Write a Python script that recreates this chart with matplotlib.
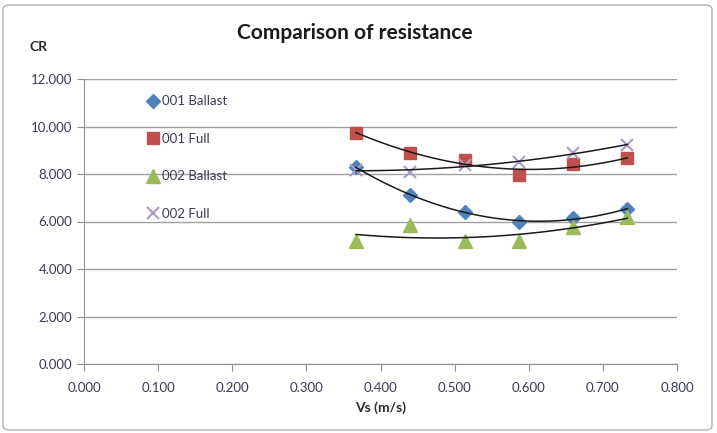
import numpy as np
import matplotlib
matplotlib.use("Agg")
import matplotlib.pyplot as plt
from matplotlib.ticker import FormatStrFormatter
from matplotlib.patches import FancyBboxPatch

vs = [0.367, 0.440, 0.514, 0.587, 0.660, 0.733]
ballast_001 = [8.28, 7.12, 6.41, 5.99, 6.13, 6.53]
full_001 = [9.74, 8.88, 8.60, 7.96, 8.41, 8.66]
ballast_002 = [5.20, 5.85, 5.20, 5.20, 5.78, 6.20]
full_002 = [8.17, 8.10, 8.38, 8.49, 8.90, 9.22]

series_names = ["001 Ballast", "001 Full", "002 Ballast", "002 Full"]
x_ticks = [0.0, 0.1, 0.2, 0.3, 0.4, 0.5, 0.6, 0.7, 0.8]
y_ticks = [0, 2, 4, 6, 8, 10, 12]

plt.rcParams['font.family'] = ['Lato', 'DejaVu Sans']

fig = plt.figure(figsize=(7.17, 4.33), dpi=100)
ax = fig.add_axes([84/717, 1-364/433, (677-84)/717, (364-79)/433])

styles = [
    dict(marker='D', color='#4F81BD', ms=7),
    dict(marker='s', color='#C0504D', ms=9),
    dict(marker='^', color='#9BBB59', ms=10),
    dict(marker='x', color='#A99BC8', ms=9, mew=1.5),
]
data = [ballast_001, full_001, ballast_002, full_002]

handles = []
for name, ys, st in zip(series_names, data, styles):
    h, = ax.plot(vs, ys, linestyle='none', label=name, zorder=3, **st)
    handles.append(h)

xs = np.linspace(min(vs), max(vs), 100)
for ys in data:
    c = np.polyfit(vs, ys, 2)
    ax.plot(xs, np.polyval(c, xs), color='#1a1a1a', lw=1.1, zorder=4)

ax.set_xlim(0, 0.8)
ax.set_ylim(0, 12)
ax.set_xticks(x_ticks)
ax.set_yticks(y_ticks)
ax.xaxis.set_major_formatter(FormatStrFormatter('%.3f'))
ax.yaxis.set_major_formatter(FormatStrFormatter('%.3f'))
ax.grid(axis='y', color='#A0A0A0', lw=1)
ax.set_axisbelow(True)
for s in ['top', 'right']:
    ax.spines[s].set_visible(False)
for s in ['left', 'bottom']:
    ax.spines[s].set_color('#909090')
ax.tick_params(axis='both', colors='#909090', labelcolor='#3a3a5a', labelsize=9.5, length=5)
ax.tick_params(axis='x', pad=8)

ax.set_xlabel('Vs (m/s)', fontsize=10, fontweight='bold', color='#2a2a2a', labelpad=5)
fig.text(30/717, 1-47/433, 'CR', fontsize=10, fontweight='bold', color='#2a2a2a', ha='left', va='center')
fig.text(355/717, 1-33/433, 'Comparison of resistance', fontsize=15, fontweight='bold',
         color='#1a1a1a', ha='center', va='center')

leg = ax.legend(handles=handles, loc='upper left', bbox_to_anchor=(140/717, 1-90/433),
                bbox_transform=fig.transFigure, frameon=False, fontsize=9.5,
                labelspacing=1.93, handletextpad=0.1, handlelength=1.2, borderaxespad=0)
for t in leg.get_texts():
    t.set_color('#3a3a5a')

border = FancyBboxPatch((3/717, 3/433), 1-8/717, 1-8/433, boxstyle='round,pad=0,rounding_size=0.01',
                        transform=fig.transFigure, fill=False, ec='#B0B0B0', lw=1)
fig.patches.append(border)

fig.savefig('out.png', dpi=100)
